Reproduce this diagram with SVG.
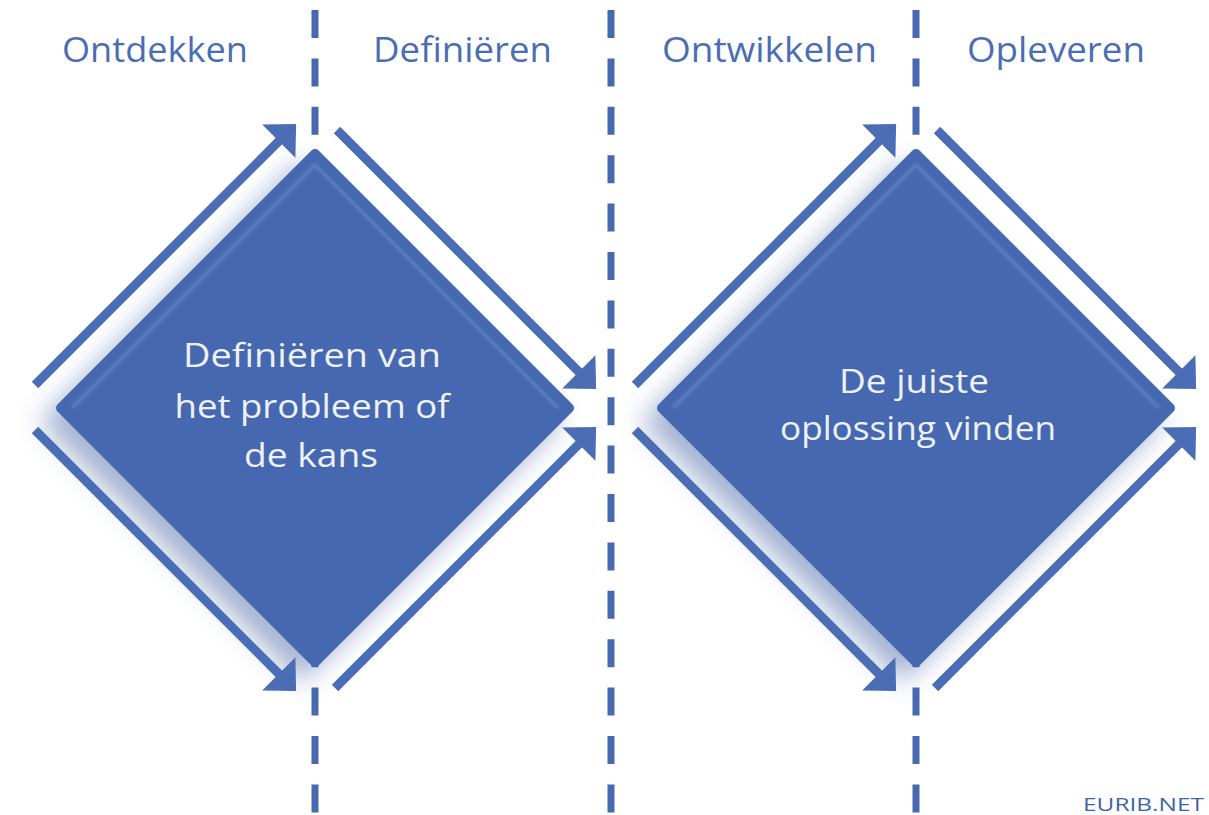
<svg xmlns="http://www.w3.org/2000/svg" width="1209" height="815" viewBox="0 0 1209 815">
  <style>
    .bg { fill: #ffffff; }
    .divider { stroke: #4669b0; stroke-width: 7; stroke-dasharray: 28 20.4; fill: none; }
    .head { font-family: "Open Sans", "Liberation Sans", sans-serif; font-size: 34px; fill: #4a6db5; text-anchor: middle; }
    .diamond { fill: #4468b0; stroke: #4468b0; stroke-width: 10; stroke-linejoin: round; }
    .bevel { fill: none; stroke: #ffffff; stroke-opacity: 0.16; stroke-width: 3; stroke-linejoin: round; }
    .label { font-family: "Open Sans", "Liberation Sans", sans-serif; font-size: 32px; fill: #eef1f8; text-anchor: middle; }
    .arrow { stroke: #4a6db5; stroke-width: 9; fill: none; stroke-linecap: butt; marker-end: url(#ah); }
    .brand { font-family: "Open Sans", "Liberation Sans", sans-serif; font-size: 19px; fill: #3f63ab; }
  </style>
  <defs>
    <marker id="ah" markerUnits="userSpaceOnUse" markerWidth="26" markerHeight="48" viewBox="-1 -24 26 48" refX="0" refY="0" orient="auto" overflow="visible">
      <path d="M-1,-23.5 L23.5,0 L-1,23.5 Z" fill="#4a6db5"/>
    </marker>
    <filter id="shadow" x="-40%" y="-40%" width="180%" height="180%">
      <feGaussianBlur in="SourceAlpha" stdDeviation="13"/>
      <feOffset dx="-14" dy="14" result="b"/>
      <feFlood flood-color="#4a68a8" flood-opacity="0.5"/>
      <feComposite in2="b" operator="in"/>
      <feMerge>
        <feMergeNode/>
        <feMergeNode in="SourceGraphic"/>
      </feMerge>
    </filter>
    <filter id="soft" x="-10%" y="-10%" width="120%" height="120%">
      <feGaussianBlur stdDeviation="1.5"/>
    </filter>
  </defs>

  <rect class="bg" x="0" y="0" width="1209" height="815"/>

  <g id="dividers">
    <line class="divider" x1="315" y1="10" x2="315" y2="815"/>
    <line class="divider" x1="611" y1="10" x2="611" y2="815"/>
    <line class="divider" x1="916" y1="10" x2="916" y2="815"/>
  </g>

  <g id="headers">
    <text class="head" x="155" y="62" textLength="186" lengthAdjust="spacingAndGlyphs">Ontdekken</text>
    <text class="head" x="462.5" y="62" textLength="179" lengthAdjust="spacingAndGlyphs">Definiëren</text>
    <text class="head" x="769.5" y="62" textLength="215" lengthAdjust="spacingAndGlyphs">Ontwikkelen</text>
    <text class="head" x="1056" y="62" textLength="178" lengthAdjust="spacingAndGlyphs">Opleveren</text>
  </g>

  <g id="node-problem">
    <path class="diamond" filter="url(#shadow)" d="M315,154 L569,408 L315,662 L61,408 Z"/>
    <path class="bevel" filter="url(#soft)" d="M72,408 L315,165 L558,408"/>
    <text class="label" x="312" y="367" textLength="258" lengthAdjust="spacingAndGlyphs">Definiëren van</text>
    <text class="label" x="312" y="418" textLength="275" lengthAdjust="spacingAndGlyphs">het probleem of</text>
    <text class="label" x="311" y="467" textLength="134" lengthAdjust="spacingAndGlyphs">de kans</text>
  </g>

  <g id="node-solution">
    <path class="diamond" filter="url(#shadow)" d="M916,154 L1170,408 L916,662 L662,408 Z"/>
    <path class="bevel" filter="url(#soft)" d="M673,408 L916,165 L1159,408"/>
    <text class="label" x="914" y="393" textLength="150" lengthAdjust="spacingAndGlyphs">De juiste</text>
    <text class="label" x="918" y="440" textLength="276" lengthAdjust="spacingAndGlyphs">oplossing vinden</text>
  </g>

  <g id="connectors">
    <path class="arrow" d="M35,385 L279.5,140.5"/>
    <path class="arrow" d="M337,130 L579.5,372.5"/>
    <path class="arrow" d="M35,430 L279.5,674.5"/>
    <path class="arrow" d="M335,688 L579.5,443.5"/>
    <path class="arrow" d="M635,385 L879.5,140.5"/>
    <path class="arrow" d="M937,130 L1179.5,372.5"/>
    <path class="arrow" d="M635,430 L879.5,674.5"/>
    <path class="arrow" d="M935,688 L1179.5,443.5"/>
  </g>

  <text class="brand" x="1083" y="811" textLength="121" lengthAdjust="spacingAndGlyphs">EURIB.NET</text>
</svg>
